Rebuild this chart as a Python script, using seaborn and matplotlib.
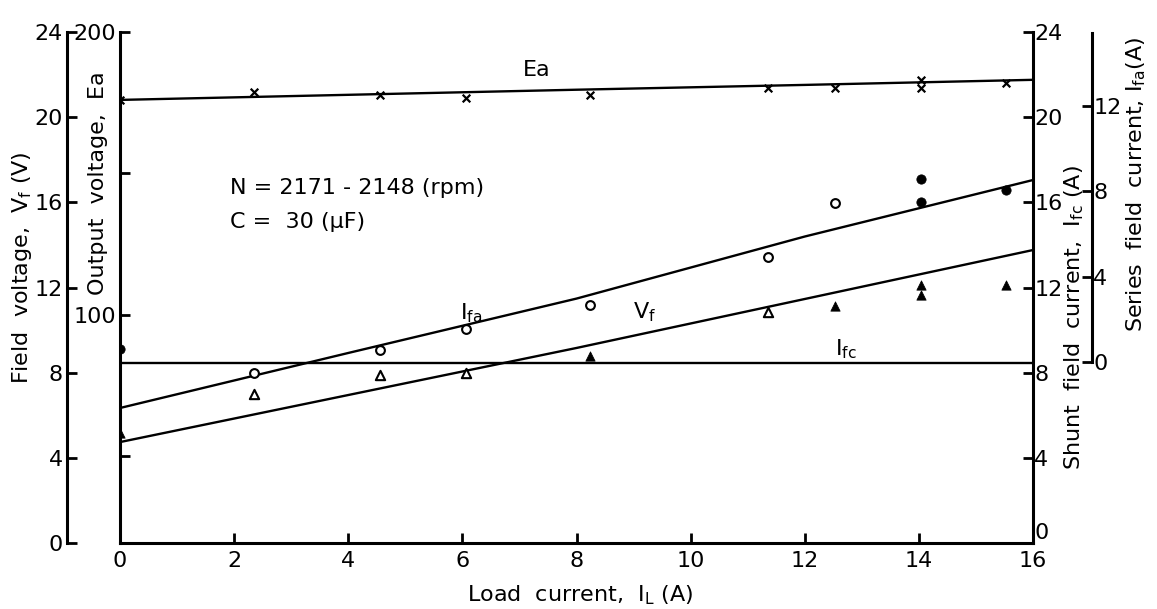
import matplotlib
matplotlib.use("Agg")
import matplotlib.pyplot as plt
import pandas as pd
import seaborn as sns

# Load current at each test point (A)
load_current = [0, 2.35, 4.56, 6.06, 8.23, 11.36, 12.53, 14.04, 14.04, 15.53]
ea_meas = [176.0, 178.8, 177.7, 176.7, 177.7, 180.2, 180.2, 183.0, 180.2, 182.0]
ifa_meas = [0.61, -0.52, 0.56, 1.55, 2.67, 4.92, 7.45, 8.58, 7.50, 8.06]
vf_meas = [5.17, 7.00, 7.89, 7.98, 8.78, 10.85, 11.13, 12.12, 11.65, 12.12]
# points drawn as solid symbols
ifa_solid = [True, False, False, False, False, False, False, True, True, True]
vf_solid = [True, False, False, False, True, False, True, True, True, True]

# Smoothed curves through the points
fit_current = [0, 4, 8, 12, 16]
ea_fit = [176.0, 177.8, 179.6, 181.3, 183.1]
ifa_fit = [-2.16, 0.42, 2.97, 5.88, 8.53]
vf_fit = [4.74, 6.95, 9.16, 11.46, 13.76]
ifc_fit = [8.45, 8.45, 8.45, 8.45, 8.45]

sns.set_style("ticks")
plt.rcParams["font.family"] = ["DejaVu Sans"]
plt.rcParams["mathtext.default"] = "regular"
for key in ("text.color", "axes.labelcolor", "xtick.color", "ytick.color", "axes.edgecolor"):
    plt.rcParams[key] = "black"

pts = pd.DataFrame({"IL": load_current, "Ea": ea_meas, "Ifa": ifa_meas,
                    "Vf": vf_meas, "ifa_solid": ifa_solid, "vf_solid": vf_solid})
fit = pd.DataFrame({"IL": fit_current, "Ea": ea_fit, "Ifa": ifa_fit,
                    "Vf": vf_fit, "Ifc": ifc_fit})

W, H = 1157, 609
fig = plt.figure(figsize=(W / 100, H / 100), dpi=100)
ax = fig.add_axes([120 / W, 66 / H, 913 / W, 511 / H])
ax_ea = ax.twinx()
ax_sh = ax.twinx()
ax_ifa = ax.twinx()

# lines
lw = 1.7
sns.lineplot(data=fit, x="IL", y="Vf", ax=ax, color="black", linewidth=lw)
sns.lineplot(data=fit, x="IL", y="Ea", ax=ax_ea, color="black", linewidth=lw)
sns.lineplot(data=fit, x="IL", y="Ifc", ax=ax_sh, color="black", linewidth=lw)
sns.lineplot(data=fit, x="IL", y="Ifa", ax=ax_ifa, color="black", linewidth=lw)

# markers
sns.scatterplot(data=pts, x="IL", y="Ea", ax=ax_ea, marker="x", s=30,
                color="black", linewidth=1.6, zorder=4)
sns.scatterplot(data=pts[pts.vf_solid], x="IL", y="Vf", ax=ax, marker="^", s=45,
                facecolor="black", edgecolor="black", zorder=4)
sns.scatterplot(data=pts[~pts.vf_solid], x="IL", y="Vf", ax=ax, marker="^", s=45,
                facecolor="white", edgecolor="black", linewidth=1.5, zorder=4)
sns.scatterplot(data=pts[pts.ifa_solid], x="IL", y="Ifa", ax=ax_ifa, marker="o", s=45,
                facecolor="black", edgecolor="black", zorder=4)
sns.scatterplot(data=pts[~pts.ifa_solid], x="IL", y="Ifa", ax=ax_ifa, marker="o", s=40,
                facecolor="white", edgecolor="black", linewidth=1.5, zorder=4)

# limits
ax.set_xlim(0, 16)
ax.set_ylim(0, 24)
ax_ea.set_ylim(19.4, 200)
ax_sh.set_ylim(0, 24)
ax_ifa.set_ylim(-8.49, 15.47)

# spines
for a in (ax, ax_ea, ax_sh, ax_ifa):
    for s in a.spines.values():
        s.set_visible(False)
        s.set_linewidth(2.2)
        s.set_color("black")
    a.set_xlabel("")
    a.set_ylabel("")
ax.spines["left"].set_visible(True)
ax.spines["left"].set_position(("outward", 38))
ax.spines["bottom"].set_visible(True)
ax_ea.spines["left"].set_visible(True)
ax_ea.yaxis.set_ticks_position("left")
ax_sh.spines["right"].set_visible(True)
ax_ifa.spines["right"].set_visible(True)
ax_ifa.spines["right"].set_position(("outward", 42.5))
ax_ifa.spines["right"].set_bounds(0, 15.4)

# ticks
ax.set_xticks(range(0, 17, 2))
ax.set_yticks(range(0, 25, 4))
ax_ea.set_yticks([100, 200])
ax_ea.set_yticks([50, 150], minor=True)
ax_sh.set_yticks(range(0, 25, 4))
ax_ifa.set_yticks([0, 4, 8, 12])
for a in (ax, ax_ea, ax_sh, ax_ifa):
    a.tick_params(which="both", direction="in", length=7, width=2,
                  labelsize=16, pad=3, colors="black")
ax.tick_params(axis="x", pad=6)
ax_sh.tick_params(pad=1)
ax_ifa.tick_params(pad=1)
ax_ea.tick_params(which="minor", left=True)
# lift the shunt "0" so it clears the "16" below it
ax_sh.yaxis.get_major_ticks()[0].label2.set_verticalalignment("bottom")

# axis titles
fs = 16
fig.text(22 / W, 1 - 268 / H, "Field  voltage,  V$_f$ (V)", rotation=90,
         ha="center", va="center", fontsize=fs)
fig.text(98 / W, 1 - 183 / H, "Output  voltage,  Ea", rotation=90,
         ha="center", va="center", fontsize=fs)
fig.text(1074 / W, 1 - 318 / H, "Shunt  field  current,  I$_{fc}$ (A)", rotation=90,
         ha="center", va="center", fontsize=fs)
fig.text(1136 / W, 1 - 184 / H, "Series  field  current, I$_{fa}$(A)", rotation=90,
         ha="center", va="center", fontsize=fs)
fig.text(580 / W, 1 - 595 / H, "Load  current,  I$_L$ (A)",
         ha="center", va="center", fontsize=fs)

# in-plot notes
ax_ea.text(7.31, 186.6, "Ea", ha="center", va="center", fontsize=fs)
ax.text(1.93, 16.67, "N = 2171 - 2148 (rpm)", ha="left", va="center", fontsize=fs)
ax.text(1.93, 15.08, "C =  30 (μF)", ha="left", va="center", fontsize=fs)
ax_ifa.text(6.15, 2.3, "I$_{fa}$", ha="center", va="center", fontsize=fs)
ax.text(9.2, 10.85, "V$_f$", ha="center", va="center", fontsize=fs)
ax_sh.text(12.72, 9.1, "I$_{fc}$", ha="center", va="center", fontsize=fs)

fig.savefig("out.png", dpi=100)
